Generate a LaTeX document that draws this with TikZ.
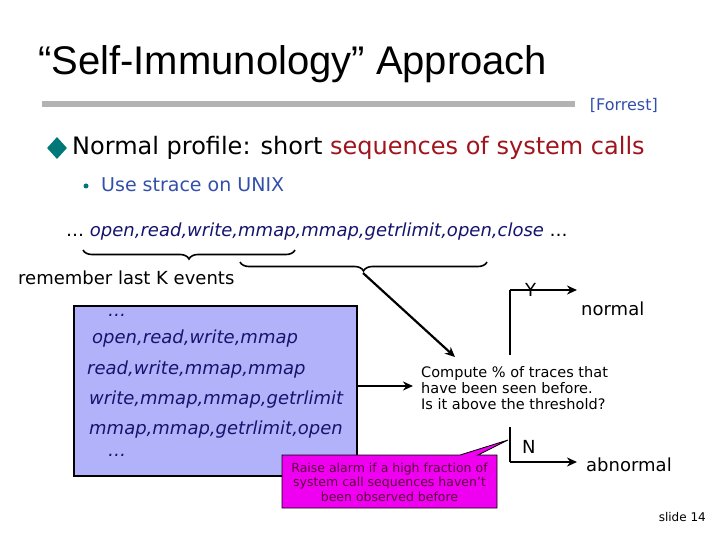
\documentclass[tikz,border=0pt]{standalone}
\usepackage{fontspec}
\setmainfont{DejaVu Sans}
\newfontfamily\arialf{Liberation Sans}
\usetikzlibrary{decorations.pathreplacing,arrows.meta,shapes.geometric}
\definecolor{navy}{RGB}{20,20,110}
\definecolor{ublue}{RGB}{50,80,170}
\definecolor{teal2}{RGB}{0,120,120}
\definecolor{darkred}{RGB}{160,20,30}
\definecolor{lav}{RGB}{178,178,250}
\definecolor{mag}{RGB}{240,0,240}
\definecolor{callt}{RGB}{90,0,60}
\tikzset{
  txt/.style={inner sep=0pt,anchor=west},
  seq/.style={txt,font=\fontsize{18}{20}\selectfont\itshape,text=navy},
  arr/.style={line width=2.2pt,-{Stealth[length=10pt,width=9pt]}},
  ln/.style={line width=2.2pt},
  brc/.style={decorate,decoration={brace,mirror,amplitude=9pt},line width=1.6pt}
}
\begin{document}
\begin{tikzpicture}[x=1pt,y=-1pt]
\useasboundingbox (0,0) rectangle (720,540);
\fill[white] (0,0) rectangle (720,540);
\node[txt,font=\arialf\fontsize{40}{44}\selectfont] (title) at (38,64) {“Self-Immunology” Approach};
\fill[gray!60] (42,101) rectangle (575,107);
\node[txt,font=\fontsize{16}{18}\selectfont,text=ublue,anchor=east] (forrest) at (658,105) {[Forrest]};
\node[diamond,fill=teal2,inner sep=0pt,minimum width=20pt,minimum height=22pt] (dia) at (57,148) {};
\node[txt,font=\fontsize{24}{28}\selectfont] (l1) at (72,148) {Normal profile: short \textcolor{darkred}{sequences of system calls}};
\node[circle,fill=teal2,inner sep=0pt,minimum size=5pt] (dot) at (86,186) {};
\node[txt,font=\fontsize{19}{22}\selectfont,text=ublue] (l2) at (101,185) {Use strace on UNIX};
\node[txt,font=\fontsize{18}{20}\selectfont] (seqline) at (66,232) {… \textcolor{navy}{\itshape open,read,write,mmap,mmap,getrlimit,open,close} …};
\coordinate (b1a) at (83,250); \coordinate (b1b) at (295,250);
\coordinate (b2a) at (240,262); \coordinate (b2b) at (487,262);
\draw[brc] (b1a) -- (b1b);
\draw[brc] (b2a) -- (b2b);
\coordinate (b2tip) at (363,273);
\node[txt,font=\fontsize{18}{20}\selectfont] (rem) at (18,278) {remember last K events};
\node[draw,line width=2pt,fill=lav,minimum width=283pt,minimum height=170pt,anchor=north west,inner sep=0pt] (box) at (73,305) {};
\node[seq] (s0) at (108,315) {…};
\node[seq] (s1) at (92,339) {open,read,write,mmap};
\node[seq] (s2) at (87,370) {read,write,mmap,mmap};
\node[seq] (s3) at (89,400) {write,mmap,mmap,getrlimit};
\node[seq] (s4) at (89,430) {mmap,mmap,getrlimit,open};
\node[seq] (s5) at (108,455) {…};
\node[txt,font=\fontsize{14.5}{16}\selectfont,align=left,anchor=north west] (comp) at (421,366) {Compute \% of traces that\\have been seen before.\\Is it above the threshold?};
\coordinate (boxout) at (356,386);
\draw[arr] (boxout) -- (413,386);
\draw[arr] (b2tip) -- (455,357);
\coordinate (yt) at (510,290); \coordinate (ys) at (510,355);
\coordinate (nt) at (510,427); \coordinate (nb) at (510,462);
\draw[ln] (ys) -- (yt);
\draw[arr] (yt) -- (577,290);
\draw[ln] (nt) -- (nb);
\draw[arr] (nb) -- (577,462);
\node[txt,font=\fontsize{18}{20}\selectfont] (Y) at (525,290) {Y};
\node[txt,font=\fontsize{18}{20}\selectfont] (N) at (522,447) {N};
\node[txt,font=\fontsize{18}{20}\selectfont] (normal) at (581,309) {normal};
\node[txt,font=\fontsize{18}{20}\selectfont] (abn) at (586,465) {abnormal};
\draw[fill=mag,line width=0.8pt] (282,455) -- (460,455) -- (508,440) -- (478,455) -- (497,455) -- (497,508) -- (282,508) -- cycle;
\node[font=\fontsize{12.5}{14.5}\selectfont,text=callt,align=center] (call) at (389.5,482) {Raise alarm if a high fraction of\\system call sequences haven't\\been observed before};
\node[txt,font=\fontsize{12}{14}\selectfont,anchor=east] (slide) at (706,517) {slide 14};
\end{tikzpicture}
\end{document}
